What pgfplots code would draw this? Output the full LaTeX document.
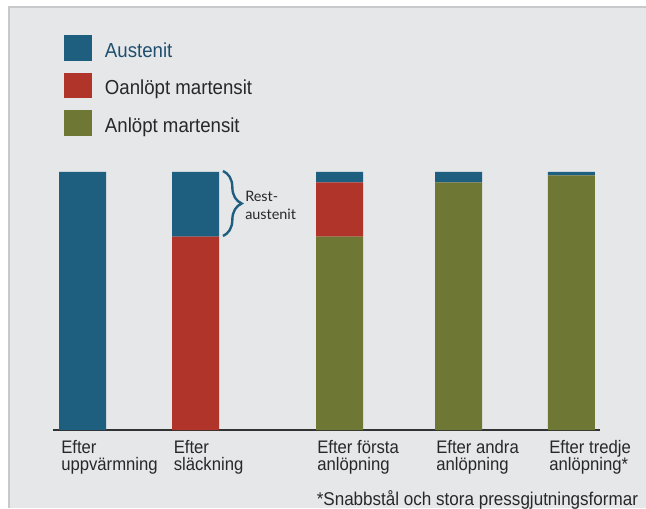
\documentclass[border=0pt]{standalone}
\usepackage{pgfplots}
\pgfplotsset{compat=1.18}
\usepackage{fontspec}
\setmainfont{Liberation Sans}[FakeStretch=0.92]
\newfontfamily\restfont{Lato}
\usetikzlibrary{decorations.pathreplacing}

\definecolor{austenit}{RGB}{30,94,126}
\definecolor{oanlopt}{RGB}{176,52,42}
\definecolor{anlopt}{RGB}{110,119,52}
\definecolor{bgfill}{RGB}{230,231,233}
\definecolor{framegray}{RGB}{200,201,203}
\definecolor{axisgray}{RGB}{50,50,50}
\definecolor{labelgray}{RGB}{40,40,40}
\definecolor{legblue}{RGB}{31,79,110}

\begin{document}
\begin{tikzpicture}
\useasboundingbox (0,0) rectangle (484.5pt,381pt);
\clip (0,0) rectangle (484.5pt,381pt);

% background panel, coordinates in pixels (y counted from the bottom)
\begin{scope}[x=0.75pt,y=0.75pt]
  \fill[white] (0,0) rectangle (646,508);
  \fill[bgfill] (9,0) rectangle (646,501);
  \draw[framegray, line width=1.1pt] (9,0) -- (9,501) -- (646,501);

  % legend
  \fill[austenit] (64,447.1) rectangle (91.7,472.7);
  \fill[oanlopt]  (64,409.7) rectangle (91.7,435.3);
  \fill[anlopt]   (64,372.3) rectangle (91.7,398);
  \begin{scope}[every node/.style={anchor=base west, inner sep=0pt,
      font=\fontsize{15.2}{18}\selectfont, text=labelgray}]
    \node[text=legblue] at (104.7,450.4) {Austenit};
    \node at (104.7,413) {Oanlöpt martensit};
    \node at (104.7,375.5) {Anlöpt martensit};
  \end{scope}

  % rest austenite brace
  \draw[austenit, line width=1.8pt, decorate,
        decoration={brace, amplitude=14pt}] (223,337) -- (223,272);
  \node[anchor=base west, inner sep=0pt, text=labelgray,
        font=\restfont\fontsize{10.8}{13}\selectfont] at (245,306.3) {Rest-};
  \node[anchor=base west, inner sep=0pt, text=labelgray,
        font=\restfont\fontsize{10.8}{13}\selectfont] at (245,289) {austenit};

  % footnote
  \node[anchor=base west, inner sep=0pt, text=labelgray,
        font=\fontsize{13.9}{16}\selectfont] at (316.5,2.5)
        {*Snabbstål och stora pressgjutningsformar};
\end{scope}

\begin{axis}[
  at={(39.75pt,58.5pt)}, anchor=south west,
  scale only axis, width=410.25pt, height=193.5pt,
  xmin=53, xmax=600, ymin=0, ymax=100,
  axis x line=bottom, axis y line=none,
  axis line style={draw=axisgray, line width=1pt, -},
  ybar stacked, bar width=47,
  xtick={61,173.5,317,436,549},
  xticklabels={{Efter\\uppvärmning},{Efter\\släckning},{Efter första\\anlöpning},{Efter andra\\anlöpning},{Efter tredje\\anlöpning*}},
  major tick length=0pt,
  xticklabel style={anchor=north west, align=left, inner sep=0pt, yshift=-7.5pt,
    font=\fontsize{13.6}{13}\selectfont, text=labelgray},
  clip=false,
]
  % stacked from the bottom: anlöpt, oanlöpt, austenit (percent)
  \addplot[fill=anlopt, draw=none]
    coordinates {(82.5,0) (195.5,0) (339.6,75) (458.5,96) (571.3,98.7)};
  \addplot[fill=oanlopt, draw=none]
    coordinates {(82.5,0) (195.5,75) (339.6,21) (458.5,0) (571.3,0)};
  \addplot[fill=austenit, draw=none]
    coordinates {(82.5,100) (195.5,25) (339.6,4) (458.5,4) (571.3,1.3)};
\end{axis}
\end{tikzpicture}
\end{document}
